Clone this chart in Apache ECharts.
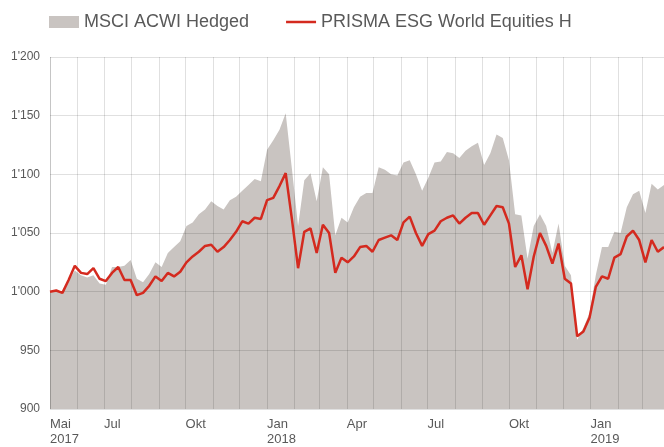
<!DOCTYPE html>
<html>
<head>
<meta charset="utf-8">
<script src="https://cdn.jsdelivr.net/npm/echarts@6/dist/echarts.min.js"></script>
<style>
  html, body { margin: 0; padding: 0; background: #fff; }
  #chart { width: 664px; height: 447px; }
</style>
</head>
<body>
<div id="chart"></div>
<script>
// weekly index values, first week starts 1 May 2017
const startDate = [2017, 4, 1];
const msciAcwiHedged = [
  1000, 1001, 999, 1009, 1018, 1014, 1012, 1014, 1007, 1006,
  1021, 1021, 1022, 1027, 1011, 1008, 1015, 1025, 1021, 1033,
  1038, 1043, 1056, 1059, 1066, 1070, 1077, 1073, 1070, 1078,
  1081, 1086, 1091, 1096, 1094, 1121, 1129, 1138, 1152, 1105,
  1056, 1095, 1101, 1077, 1106, 1100, 1048, 1063, 1059, 1072,
  1081, 1084, 1084, 1106, 1104, 1100, 1099, 1110, 1112, 1100,
  1086, 1097, 1110, 1111, 1119, 1118, 1114, 1120, 1124, 1127,
  1108, 1118, 1134, 1131, 1112, 1066, 1065, 1028, 1056, 1066,
  1056, 1033, 1058, 1022, 1014, 959, 969, 982, 1014, 1038,
  1038, 1051, 1050, 1072, 1083, 1086, 1067, 1092, 1087, 1091
];
const prismaEsgWorld = [
  1000, 1001, 999, 1010, 1022, 1016, 1015, 1020, 1011, 1009,
  1016, 1021, 1010, 1010, 997, 999, 1005, 1013, 1009, 1016,
  1013, 1017, 1025, 1030, 1034, 1039, 1040, 1034, 1038, 1044,
  1051, 1060, 1058, 1063, 1062, 1078, 1080, 1090, 1101, 1062,
  1020, 1051, 1054, 1033, 1057, 1050, 1016, 1029, 1025, 1030,
  1038, 1039, 1034, 1044, 1046, 1048, 1044, 1059, 1064, 1050,
  1039, 1049, 1052, 1060, 1063, 1065, 1058, 1063, 1067, 1067,
  1057, 1065, 1073, 1072, 1058, 1021, 1031, 1002, 1030, 1050,
  1039, 1024, 1041, 1011, 1007, 962, 966, 978, 1004, 1013,
  1011, 1029, 1032, 1047, 1052, 1044, 1025, 1044, 1034, 1038
];
const tickLabelDates = ['2017-5', '2017-7', '2017-10', '2018-1', '2018-4', '2018-7', '2018-10', '2019-1'];
const tickLabels = ['Mai\n2017', 'Jul', 'Okt', 'Jan\n2018', 'Apr', 'Jul', 'Okt', 'Jan\n2019'];
const seriesNames = ['MSCI ACWI Hedged', 'PRISMA ESG World Equities H'];

const weeks = msciAcwiHedged.map((v, i) => new Date(startDate[0], startDate[1], startDate[2] + 7 * i));
const pairs = arr => arr.map((v, i) => [weeks[i].getTime(), v]);

const chart = echarts.init(document.getElementById('chart'));
const fontFamily = '"Liberation Sans", Arial, sans-serif';
const gridColor = 'rgba(0,0,0,0.12)';
const red = '#d42a1f';

chart.setOption({
  animation: false,
  textStyle: { fontFamily: fontFamily },
  legend: {
    left: 44,
    top: 8,
    itemGap: 37,
    itemWidth: 30,
    itemHeight: 12,
    symbolKeepAspect: true,
    textStyle: { fontSize: 18, color: '#595959', fontFamily: fontFamily },
    data: [
      { name: seriesNames[0], icon: 'rect' },
      { name: seriesNames[1], icon: 'path://M0,0H30V2.5H0Z', itemStyle: { color: red } }
    ]
  },
  grid: { left: 50, right: 0, top: 57, bottom: 37, containLabel: false },
  xAxis: {
    type: 'time',
    min: weeks[0].getTime(),
    max: weeks[weeks.length - 1].getTime(),
    minInterval: 28 * 86400000,
    maxInterval: 31 * 86400000,
    z: 3,
    axisLine: { show: false },
    axisTick: { show: false },
    splitLine: { show: true, lineStyle: { color: gridColor, width: 1 } },
    axisLabel: {
      interval: 0,
      hideOverlap: false,
      align: 'left',
      margin: 8,
      fontSize: 13,
      lineHeight: 15,
      color: '#595959',
      formatter: function (value) {
        const d = new Date(value);
        if (d.getDate() !== 1) return '';
        const key = d.getFullYear() + '-' + (d.getMonth() + 1);
        const idx = tickLabelDates.indexOf(key);
        return idx >= 0 ? tickLabels[idx] : '';
      }
    }
  },
  yAxis: {
    type: 'value',
    min: 900,
    max: 1200,
    interval: 50,
    z: 3,
    axisLine: { show: false },
    axisTick: { show: false },
    splitLine: { lineStyle: { color: gridColor, width: 1 } },
    axisLabel: {
      margin: 10,
      fontSize: 12,
      color: '#595959',
      formatter: function (v) {
        return v >= 1000 ? Math.floor(v / 1000) + "'" + String(v % 1000).padStart(3, '0') : String(v);
      }
    }
  },
  series: [
    {
      name: seriesNames[0],
      type: 'line',
      data: pairs(msciAcwiHedged),
      symbol: 'none',
      z: 1,
      itemStyle: { color: '#c9c4c1' },
      lineStyle: { width: 0 },
      areaStyle: { color: '#c9c4c1', opacity: 1, origin: 'start' }
    },
    {
      name: seriesNames[1],
      type: 'line',
      data: pairs(prismaEsgWorld),
      symbol: 'none',
      z: 5,
      itemStyle: { color: red },
      lineStyle: { color: red, width: 2.5 }
    }
  ]
});
</script>
</body>
</html>
